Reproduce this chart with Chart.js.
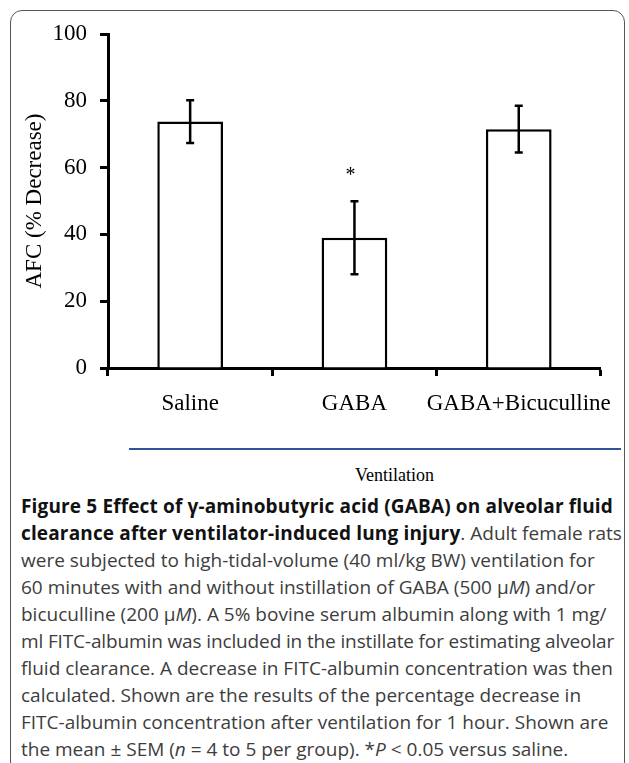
<!DOCTYPE html>
<html>
<head>
<meta charset="utf-8">
<script src="https://cdn.jsdelivr.net/npm/chart.js@4.4.1/dist/chart.umd.min.js"></script>
<style>
  html, body { margin: 0; padding: 0; background: #fff; }
  body { width: 629px; height: 763px; overflow: hidden; position: relative; }
  #frame {
    position: absolute; left: 10px; top: 10px; width: 615px; height: 764px;
    box-sizing: border-box; border: 1.5px solid #555; border-radius: 12px;
  }
  #plot { position: absolute; left: 0; top: 0; width: 629px; height: 440px; }
  #axisBar { position: absolute; left: 129px; top: 447.5px; width: 492px; height: 2.5px; background: #2f5597; }
  #groupLabel {
    position: absolute; left: 355px; top: 465px; line-height: 18px;
    font: 18px "Liberation Serif", "Times New Roman", serif; color: #000;
  }
  #caption {
    position: absolute; left: 21px; top: 493px; width: 605px;
    font-family: "Open Sans", sans-serif; font-size: 19px; line-height: 27px; color: #3d3d3d;
  }
  #caption div { white-space: nowrap; }
  #caption div.tight { letter-spacing: -0.13px; }
  #caption b { color: #111; letter-spacing: 0.15px; }
</style>
</head>
<body>
<div id="frame"></div>
<div id="plot"><canvas id="afcChart" width="629" height="440"></canvas></div>
<div id="axisBar"></div>
<div id="groupLabel">Ventilation</div>
<div id="caption">
  <div><b>Figure 5 Effect of γ-aminobutyric acid (GABA) on alveolar fluid</b></div>
  <div><b>clearance after ventilator-induced lung injury</b>. Adult female rats</div>
  <div>were subjected to high-tidal-volume (40 ml/kg BW) ventilation for</div>
  <div>60 minutes with and without instillation of GABA (500 μ<i>M</i>) and/or</div>
  <div>bicuculline (200 μ<i>M</i>). A 5% bovine serum albumin along with 1 mg/</div>
  <div class="tight">ml FITC-albumin was included in the instillate for estimating alveolar</div>
  <div>fluid clearance. A decrease in FITC-albumin concentration was then</div>
  <div>calculated. Shown are the results of the percentage decrease in</div>
  <div>FITC-albumin concentration after ventilation for 1 hour. Shown are</div>
  <div>the mean ± SEM (<i>n</i> = 4 to 5 per group). *<i>P</i> &lt; 0.05 versus saline.</div>
</div>
<script>
'use strict';

const groups = ['Saline', 'GABA', 'GABA+Bicuculline'];
const afcMean = [73.8, 39.0, 71.5];
const afcSem = [6.4, 10.9, 7.0];
const sigMarks = ['', '*', ''];
const yTicks = [0, 20, 40, 60, 80, 100];

const serif = '"Liberation Serif", "Times New Roman", serif';

// error bars + significance star, drawn from the data arrays
const errorBars = {
  id: 'errorBars',
  afterDatasetsDraw(chart) {
    const ctx = chart.ctx;
    const y = chart.scales.y;
    const bars = chart.getDatasetMeta(0).data;
    ctx.save();
    ctx.strokeStyle = '#000';
    ctx.lineWidth = 2.5;
    bars.forEach(function(bar, i){
      const top = y.getPixelForValue(afcMean[i] + afcSem[i]);
      const bottom = y.getPixelForValue(afcMean[i] - afcSem[i]);
      ctx.beginPath();
      ctx.moveTo(bar.x, top);
      ctx.lineTo(bar.x, bottom);
      ctx.moveTo(bar.x - 4, top);
      ctx.lineTo(bar.x + 4, top);
      ctx.moveTo(bar.x - 4, bottom);
      ctx.lineTo(bar.x + 4, bottom);
      ctx.stroke();
      if (sigMarks[i]) {
        ctx.font = '20px ' + serif;
        ctx.textAlign = 'center';
        ctx.textBaseline = 'alphabetic';
        ctx.fillStyle = '#000';
        ctx.fillText(sigMarks[i], bar.x - 4, top - 20);
      }
    });
    ctx.restore();
  }
};

const ctx = document.getElementById('afcChart').getContext('2d');
const chart = new Chart(ctx, {
  type: 'bar',
  data: {
    labels: groups,
    datasets: [{
      data: afcMean,
      backgroundColor: '#fff',
      borderColor: '#000',
      borderWidth: 2.5,
      barPercentage: 0.4,
      categoryPercentage: 1,
    }]
  },
  options: {
    responsive: false,
    animation: false,
    layout: { padding: { left: 10, right: 25, top: 34, bottom: 0 } },
    plugins: {
      legend: { display: false },
      tooltip: { enabled: false },
    },
    scales: {
      x: {
        grid: { offset: true, drawOnChartArea: false, tickLength: 8, tickWidth: 3, tickColor: '#000' },
        border: { width: 3, color: '#000' },
        ticks: {
          color: '#000', font: { family: serif, size: 23 },
          padding: 14, maxRotation: 0, minRotation: 0, autoSkip: false,
        },
        afterFit: function(scale){ scale.height = 72; },
      },
      y: {
        min: 0,
        max: 100,
        grid: { drawOnChartArea: false, tickLength: 8, tickWidth: 3, tickColor: '#000' },
        border: { width: 3, color: '#000' },
        ticks: { color: '#000', font: { family: serif, size: 23 }, padding: 13 },
        afterBuildTicks: function(scale){ scale.ticks = yTicks.map(v => ({ value: v })); },
        title: {
          display: true,
          text: 'AFC (% Decrease)',
          color: '#000',
          font: { family: serif, size: 23 },
          padding: { top: 11, bottom: 0 },
        },
        afterFit: function(scale){ scale.width = 98; },
      }
    }
  },
  plugins: [errorBars]
});
</script>
</body>
</html>
